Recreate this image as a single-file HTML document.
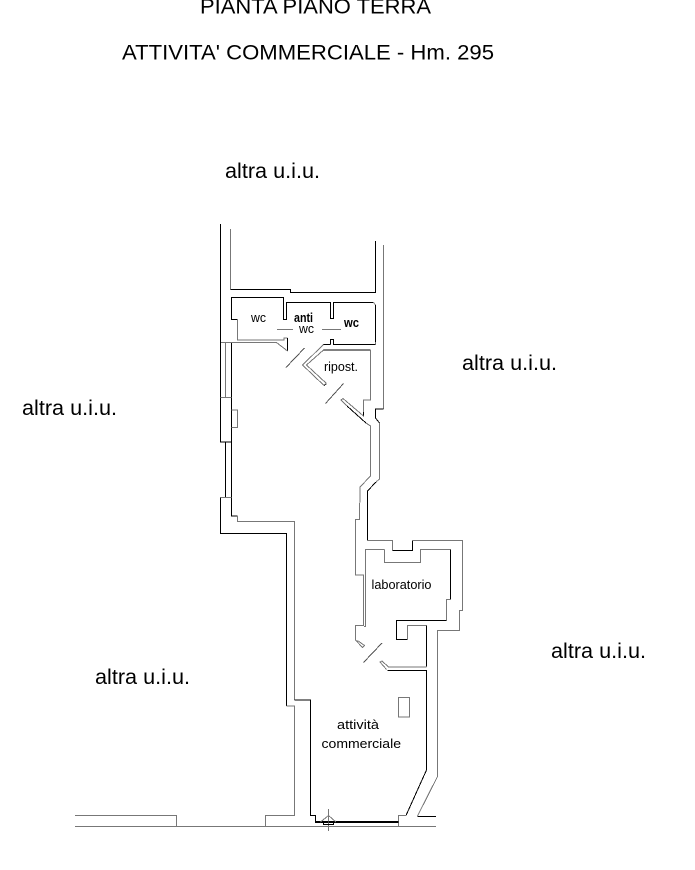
<!DOCTYPE html>
<html>
<head>
<meta charset="utf-8">
<style>
html,body{margin:0;padding:0;background:#fff;width:695px;height:870px;overflow:hidden}
svg{display:block}
text{font-family:"Liberation Sans",sans-serif;fill:#000}
.k{fill:none;stroke:#000;stroke-width:1;shape-rendering:crispEdges}
.g{fill:none;stroke:#777;stroke-width:1;shape-rendering:crispEdges}
</style>
</head>
<body>
<svg width="695" height="870" viewBox="0 0 695 870" xmlns="http://www.w3.org/2000/svg">
<text x="200" y="13.5" font-size="21" textLength="231" lengthAdjust="spacingAndGlyphs">PIANTA PIANO TERRA</text>
<text x="122" y="59.5" font-size="21" textLength="372" lengthAdjust="spacingAndGlyphs">ATTIVITA' COMMERCIALE - Hm. 295</text>
<text x="225" y="178" font-size="21" textLength="95" lengthAdjust="spacingAndGlyphs">altra u.i.u.</text>
<text x="462" y="370" font-size="21" textLength="95" lengthAdjust="spacingAndGlyphs">altra u.i.u.</text>
<text x="22" y="415" font-size="21" textLength="95" lengthAdjust="spacingAndGlyphs">altra u.i.u.</text>
<text x="551" y="658" font-size="21" textLength="95" lengthAdjust="spacingAndGlyphs">altra u.i.u.</text>
<text x="95" y="684" font-size="21" textLength="95" lengthAdjust="spacingAndGlyphs">altra u.i.u.</text>
<text x="251" y="322" font-size="13" textLength="15" lengthAdjust="spacingAndGlyphs">wc</text>
<text x="294" y="322" font-size="13" font-weight="bold" textLength="19" lengthAdjust="spacingAndGlyphs">anti</text>
<text x="299" y="333" font-size="13" textLength="15" lengthAdjust="spacingAndGlyphs">wc</text>
<text x="344" y="327" font-size="13" font-weight="bold" textLength="15" lengthAdjust="spacingAndGlyphs">wc</text>
<text x="324" y="371" font-size="13" textLength="34" lengthAdjust="spacingAndGlyphs">ripost.</text>
<text x="371.5" y="589" font-size="13" textLength="60" lengthAdjust="spacingAndGlyphs">laboratorio</text>
<text x="337" y="729" font-size="13" textLength="42" lengthAdjust="spacingAndGlyphs">attività</text>
<text x="321.5" y="748" font-size="13" textLength="79.5" lengthAdjust="spacingAndGlyphs">commerciale</text>

<!-- outer left wall -->
<polyline class="k" points="220.5,224 220.5,442 231.5,442"/>
<polyline class="k" points="231.5,342 231.5,516 237.5,516"/>
<polyline class="g" points="237.5,516 237.5,521.5 294.5,521.5 294.5,700"/>
<polyline class="k" points="294.5,700 310.5,700 310.5,815.5 315.5,815.5 315.5,822"/>
<polyline class="g" points="231.5,410 237.5,410 237.5,427.5 231.5,427.5"/>
<line class="k" x1="225.5" y1="442" x2="225.5" y2="497"/>
<line class="g" x1="225.5" y1="342" x2="225.5" y2="398"/>
<polyline class="g" points="220.5,397.5 231.5,397.5"/>
<polyline class="g" points="220.5,497.5 231.5,497.5"/>
<polyline class="k" points="220.5,497.5 220.5,533.5 286.5,533.5 286.5,706"/>
<polyline class="g" points="286.5,706 294.5,706 294.5,815.5 265.5,815.5 265.5,826"/>
<polyline class="g" points="75,815.5 176.5,815.5 176.5,826"/>
<line class="g" x1="75" y1="826.5" x2="436" y2="826.5"/>

<!-- top back wall -->
<polyline class="g" points="230.5,229 230.5,289.5"/>
<polyline class="k" points="230.5,289.5 290.5,289.5 290.5,292.5 375.5,292.5 375.5,241"/>
<line class="g" x1="383.5" y1="245" x2="383.5" y2="409"/>

<!-- right outer wall -->
<polyline class="k" points="383.5,409 375.5,409 375.5,418 379.5,423"/>
<polyline class="g" points="379.5,423 379.5,479 376,482"/>
<polyline class="k" points="376,482 367.5,491 367.5,540.5"/>
<polyline class="g" points="367.5,540.5 392.5,540.5 392.5,550.5"/>
<polyline class="k" points="392.5,550.5 412.5,550.5 412.5,540.5"/>
<polyline class="g" points="412.5,540.5 462.5,540.5 462.5,610.5 459.5,610.5 459.5,630.5 437.5,630.5 437.5,776.5 417.5,816"/>
<polyline class="k" points="417.5,816.5 436,816.5"/>

<!-- wc block -->
<polyline class="k" points="237.5,319.5 231.5,319.5 231.5,297.5 283.5,297.5 283.5,319.5 286.5,319.5 286.5,302.5 330.5,302.5 330.5,318.5 333.5,318.5 333.5,302.5 373.5,302.5"/>
<polyline class="g" points="373.5,302.5 375.5,305"/>
<polyline class="k" points="375.5,305 375.5,342"/>
<polyline class="g" points="237.5,319.5 237.5,340 284,340 284,338 287.5,338"/>
<line class="k" x1="287.5" y1="338" x2="287.5" y2="351"/>
<polyline class="g" points="287.5,351 276.5,342.5 221,342.5"/>
<polyline class="g" points="375.5,342 375.5,344.5"/>
<polyline class="k" points="375.5,344.5 333.5,344.5 333.5,339.5 330.5,339.5 330.5,344.5"/>
<polyline class="k" points="330.5,344.5 323.5,344.5"/>
<line class="g" x1="277" y1="329.5" x2="293" y2="329.5"/>
<line class="g" x1="322" y1="329.5" x2="341" y2="329.5"/>

<!-- ripostiglio -->
<polyline class="g" points="323.5,344.5 302.5,365 324,385.5"/>
<polyline class="k" points="324,385.5 326.5,383.5"/>
<polyline class="g" points="326.5,383.5 306.5,365 323.5,350"/>
<polyline class="k" points="323.5,350 370.5,350"/>
<polyline class="g" points="370.5,350 370.5,400 363.5,400 363.5,416"/>
<line class="k" x1="363.5" y1="412" x2="363.5" y2="416.5"/>
<line class="g" x1="304.5" y1="348" x2="286" y2="367.5" style="stroke:#555"/>
<line class="g" x1="343.5" y1="383.5" x2="325.5" y2="403.5" style="stroke:#555"/>
<polyline class="g" points="343,398.5 341,400 347,406"/>
<line class="k" x1="347" y1="406" x2="366" y2="423"/>
<polyline class="g" points="343,398.5 363.5,416"/>
<polyline class="g" points="366,423 370.5,426 370.5,476 360,487 359.5,519.5 355.5,519.5 355.5,575 363.5,575 363.5,625.5 355.5,625.5 355.5,640 362.5,647.5 364.5,645.5 357.5,640.5"/>

<!-- laboratorio -->
<polyline class="g" points="364,626.5 365.5,626.5 365.5,549.5 384.5,549.5"/>
<polyline class="g" points="384.5,549.5 384.5,562.5 420.5,562.5 420.5,549.5 450.5,549.5"/>
<polyline class="k" points="450.5,549.5 450.5,599.5"/>
<polyline class="g" points="450.5,599.5 446.5,599.5 446.5,620.5"/>
<polyline class="k" points="446.5,620.5 396.5,620.5 396.5,639.5 407.5,639.5"/>
<polyline class="g" points="407.5,639.5 407.5,625.5 426.5,625.5"/>
<line class="k" x1="426.5" y1="625.5" x2="426.5" y2="666.5"/>
<polyline class="g" points="426.5,667 388.5,667 382,661 380,662 386.5,669.5"/>
<polyline class="k" points="387.5,670.5 426.5,670.5 426.5,770"/>
<line class="g" x1="382" y1="643" x2="363.5" y2="662.5" style="stroke:#555"/>

<!-- shop front -->
<polyline class="k" points="426.5,770 406,815.5"/>
<polyline class="g" points="406,815.5 398.5,815.5 398.5,826"/>
<line class="k" x1="315" y1="822" x2="398.5" y2="822" style="stroke-width:2"/>
<rect class="g" x="398.5" y="697.5" width="11" height="19.5"/>
<line class="g" x1="328.5" y1="809" x2="328.5" y2="831"/>
<polyline class="g" points="320.5,822 328.5,815.5 336,822"/>
<rect class="k" x="323.5" y="822" width="10" height="2.5"/>
</svg>
</body>
</html>
